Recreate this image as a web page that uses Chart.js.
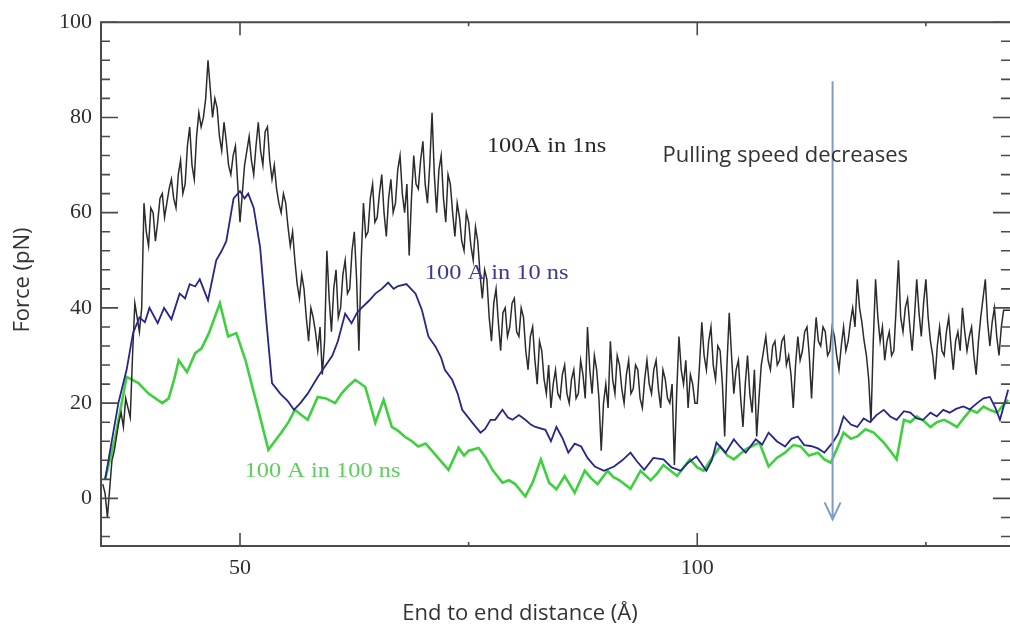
<!DOCTYPE html>
<html>
<head>
<meta charset="utf-8">
<script src="https://cdn.jsdelivr.net/npm/chart.js@4.4.0/dist/chart.umd.min.js"></script>
<style>
  body { margin: 0; background: #fff; }
</style>
</head>
<body>
<canvas id="force-chart" width="1010" height="633"></canvas>
<script>
// pulling at 100 A in 1 ns
const blackDist = [
  35.0, 35.25, 35.5, 35.75, 36.0, 36.25, 36.5, 36.75, 37.0, 37.25, 37.5, 37.75, 38.0, 38.25, 38.5, 38.75, 39.0, 39.25, 39.5, 39.75,
  40.0, 40.25, 40.5, 40.75, 41.0, 41.25, 41.5, 41.75, 42.0, 42.25, 42.5, 42.75, 43.0, 43.25, 43.5, 43.75, 44.0, 44.25, 44.5, 44.75,
  45.0, 45.25, 45.5, 45.75, 46.0, 46.25, 46.5, 46.75, 47.0, 47.25, 47.5, 47.75, 48.0, 48.25, 48.5, 48.75, 49.0, 49.25, 49.5, 49.75,
  50.0, 50.25, 50.5, 50.75, 51.0, 51.25, 51.5, 51.75, 52.0, 52.25, 52.5, 52.75, 53.0, 53.25, 53.5, 53.75, 54.0, 54.25, 54.5, 54.75,
  55.0, 55.25, 55.5, 55.75, 56.0, 56.25, 56.5, 56.75, 57.0, 57.25, 57.5, 57.75, 58.0, 58.25, 58.5, 58.75, 59.0, 59.25, 59.5, 59.75,
  60.0, 60.25, 60.5, 60.75, 61.0, 61.25, 61.5, 61.75, 62.0, 62.25, 62.5, 62.75, 63.0, 63.25, 63.5, 63.75, 64.0, 64.25, 64.5, 64.75,
  65.0, 65.25, 65.5, 65.75, 66.0, 66.25, 66.5, 66.75, 67.0, 67.25, 67.5, 67.75, 68.0, 68.25, 68.5, 68.75, 69.0, 69.25, 69.5, 69.75,
  70.0, 70.25, 70.5, 70.75, 71.0, 71.25, 71.5, 71.75, 72.0, 72.25, 72.5, 72.75, 73.0, 73.25, 73.5, 73.75, 74.0, 74.25, 74.5, 74.75,
  75.0, 75.25, 75.5, 75.75, 76.0, 76.25, 76.5, 76.75, 77.0, 77.25, 77.5, 77.75, 78.0, 78.25, 78.5, 78.75, 79.0, 79.25, 79.5, 79.75,
  80.0, 80.25, 80.5, 80.75, 81.0, 81.25, 81.5, 81.75, 82.0, 82.25, 82.5, 82.75, 83.0, 83.25, 83.5, 83.75, 84.0, 84.25, 84.5, 84.75,
  85.0, 85.25, 85.5, 85.75, 86.0, 86.25, 86.5, 86.75, 87.0, 87.25, 87.5, 87.75, 88.0, 88.25, 88.5, 88.75, 89.0, 89.25, 89.5, 89.75,
  90.0, 90.25, 90.5, 90.75, 91.0, 91.25, 91.5, 91.75, 92.0, 92.25, 92.5, 92.75, 93.0, 93.25, 93.5, 93.75, 94.0, 94.25, 94.5, 94.75,
  95.0, 95.25, 95.5, 95.75, 96.0, 96.25, 96.5, 96.75, 97.0, 97.25, 97.5, 97.75, 98.0, 98.25, 98.5, 98.75, 99.0, 99.25, 99.5, 99.75,
  100.0, 100.25, 100.5, 100.75, 101.0, 101.25, 101.5, 101.75, 102.0, 102.25, 102.5, 102.75, 103.0, 103.25, 103.5, 103.75, 104.0, 104.25, 104.5, 104.75,
  105.0, 105.25, 105.5, 105.75, 106.0, 106.25, 106.5, 106.75, 107.0, 107.25, 107.5, 107.75, 108.0, 108.25, 108.5, 108.75, 109.0, 109.25, 109.5, 109.75,
  110.0, 110.25, 110.5, 110.75, 111.0, 111.25, 111.5, 111.75, 112.0, 112.25, 112.5, 112.75, 113.0, 113.25, 113.5, 113.75, 114.0, 114.25, 114.5, 114.75,
  115.0, 115.25, 115.5, 115.75, 116.0, 116.25, 116.5, 116.75, 117.0, 117.25, 117.5, 117.75, 118.0, 118.25, 118.5, 118.75, 119.0, 119.25, 119.5, 119.75,
  120.0, 120.25, 120.5, 120.75, 121.0, 121.25, 121.5, 121.75, 122.0, 122.25, 122.5, 122.75, 123.0, 123.25, 123.5, 123.75, 124.0, 124.25, 124.5, 124.75,
  125.0, 125.25, 125.5, 125.75, 126.0, 126.25, 126.5, 126.75, 127.0, 127.25, 127.5, 127.75, 128.0, 128.25, 128.5, 128.75, 129.0, 129.25, 129.5, 129.75,
  130.0, 130.25, 130.5, 130.75, 131.0, 131.25, 131.5, 131.75, 132.0, 132.25, 132.5, 132.75, 133.0, 133.25, 133.5, 133.75, 134.0, 134.25, 134.5
];
const blackForce = [
  3, 1, -4, 2, 8, 10, 13, 16, 18, 15, 21, 19, 17, 30, 41, 38, 35, 40, 62, 56,
  53, 61, 60, 54, 58, 63, 64, 59, 62, 65, 67, 63, 61, 68, 71, 64, 66, 74, 78, 70,
  67, 76, 81, 78, 80, 84, 92, 86, 80, 84, 82, 76, 73, 79, 75, 70, 68, 72, 74, 66,
  58, 64, 70, 73, 76, 71, 68, 74, 79, 73, 70, 77, 78, 71, 67, 70, 65, 62, 60, 64,
  62, 57, 53, 56, 50, 45, 42, 47, 44, 38, 33, 40, 38, 35, 31, 36, 26, 33, 52, 42,
  35, 44, 48, 38, 40, 47, 50, 43, 44, 52, 56, 46, 31, 50, 62, 55, 56, 63, 66, 58,
  59, 64, 68, 60, 55, 63, 67, 60, 62, 69, 72, 64, 60, 66, 51, 63, 72, 66, 65, 71,
  75, 66, 62, 70, 81, 68, 60, 69, 72, 63, 58, 68, 66, 60, 55, 62, 59, 54, 52, 60,
  58, 53, 50, 57, 54, 47, 42, 48, 46, 38, 33, 41, 44, 37, 31, 39, 40, 34, 36, 41,
  42, 35, 34, 40, 38, 31, 27, 34, 36, 29, 24, 33, 31, 25, 22, 28, 19, 24, 27, 22,
  21, 26, 28, 22, 20, 25, 27, 21, 22, 29, 26, 21, 36, 27, 22, 30, 27, 21, 10, 20,
  24, 19, 33, 25, 22, 30, 28, 23, 20, 26, 29, 22, 23, 28, 27, 21, 19, 25, 29, 24,
  22, 27, 29, 23, 19, 27, 25, 21, 20, 24, 7, 22, 34, 27, 24, 29, 19, 26, 24, 20,
  20, 28, 37, 30, 27, 33, 36, 28, 25, 32, 31, 24, 13, 28, 39, 30, 22, 27, 29, 21,
  15, 24, 30, 22, 18, 27, 13, 21, 28, 31, 34, 29, 27, 32, 33, 28, 29, 33, 34, 28,
  30, 26, 19, 28, 34, 29, 31, 35, 36, 30, 21, 31, 38, 33, 32, 36, 35, 30, 31, 36,
  34, 30, 27, 32, 36, 31, 33, 37, 40, 36, 46, 40, 37, 33, 30, 25, 16, 33, 46, 38,
  33, 36, 29, 33, 35, 30, 31, 40, 50, 38, 35, 40, 42, 36, 31, 38, 46, 39, 34, 41,
  46, 38, 33, 30, 25, 32, 36, 31, 30, 35, 38, 32, 27, 33, 35, 31, 40, 35, 31, 34,
  36, 30, 26, 33, 38, 42, 46, 37, 32, 37, 40, 34, 30, 36, 39.5, 39.5, 39.5, 39.5, 39.5
];

// pulling at 100 A in 10 ns
const blueDist = [
  35.25, 36.7, 37.6, 38.3, 39.0, 39.6, 40.1, 41.0, 41.7, 42.5, 43.4, 44.0, 44.5, 45.1, 45.6, 46.5, 47.4, 48.0, 48.5, 49.3,
  50.0, 50.5, 50.9, 51.5, 52.2, 52.9, 53.5, 54.4, 55.2, 55.9, 56.6, 57.4, 58.5, 59.4, 60.1, 60.7, 61.5, 62.2, 62.8, 63.3,
  64.1, 64.8, 65.5, 66.2, 66.8, 67.3, 68.2, 69.2, 69.9, 70.6, 71.4, 72.0, 72.4, 73.2, 73.8, 74.3, 75.4, 76.3, 76.8, 77.4,
  77.9, 78.7, 79.3, 79.8, 80.5, 81.2, 81.8, 82.3, 83.4, 84.0, 84.6, 85.3, 85.9, 86.6, 87.3, 88.0, 88.8, 89.8, 90.9, 91.8,
  92.7, 93.4, 94.2, 95.2, 96.3, 97.2, 98.2, 99.0, 99.9, 101.0, 101.6, 102.1, 103.1, 104.0, 104.7, 105.3, 106.4, 107.1, 107.8, 108.7,
  109.6, 110.3, 111.0, 111.7, 112.4, 113.2, 113.9, 114.8, 115.4, 116.0, 116.8, 117.5, 118.2, 118.9, 119.6, 120.4, 121.1, 121.8, 122.6, 123.3,
  124.0, 124.7, 125.5, 126.2, 126.9, 127.6, 128.3, 129.1, 129.8, 130.6, 131.3, 132.0, 132.6, 133.1, 134.0
];
const blueForce = [
  4, 20, 27, 34.7, 38, 37, 40, 36.8, 40, 37.6, 43, 42, 45, 44.5, 46, 41.6, 50, 52, 54, 63,
  64.5, 63, 64, 61, 52.7, 36.8, 24.2, 22, 20.5, 18.6, 20, 22, 25.5, 28, 30, 33, 38.8, 36.8, 39, 40,
  41.5, 43, 44, 45.3, 44, 44.6, 45, 43, 39.5, 34, 31.8, 29.5, 27, 24.9, 22, 18.6, 15.9, 13.8, 14.6, 16.5,
  16.5, 18.6, 17, 16.5, 17.5, 16.5, 15.5, 15, 14.4, 12, 15, 12.5, 9.6, 11.5, 10.9, 8.5, 6.7, 5.8, 6.7, 8,
  9.6, 7.8, 6, 8.5, 8.2, 6.5, 5.8, 7.5, 8.8, 5.8, 8, 11.7, 9.6, 12.4, 10.8, 9.6, 12.4, 11.3, 13.8, 12,
  10.9, 12.5, 13, 11.2, 11, 10.5, 9.6, 11.7, 13.5, 17.2, 15.5, 15, 16.8, 16, 17.5, 18.6, 17.2, 16.5, 18.3, 18,
  16.8, 16.5, 18, 17.2, 18.6, 18, 18.8, 19.3, 18.7, 20, 21, 21.3, 19, 16.5, 22.8
];

// pulling at 100 A in 100 ns
const greenDist = [
  35.25, 36.3, 37.6, 38.9, 39.5, 40.0, 41.5, 42.2, 42.8, 43.3, 44.2, 45.1, 45.8, 46.6, 47.8, 48.7, 49.6, 50.6, 52.0, 53.1,
  53.8, 54.5, 55.3, 56.0, 56.7, 57.4, 58.5, 59.4, 60.4, 61.1, 61.8, 62.6, 63.7, 64.8, 65.7, 66.6, 67.3, 68.0, 68.8, 69.5,
  70.3, 71.0, 71.9, 72.8, 73.9, 74.5, 75.0, 76.1, 76.9, 77.6, 78.7, 79.4, 80.1, 81.2, 82.0, 82.9, 83.8, 84.6, 85.5, 86.6,
  87.7, 88.4, 89.1, 90.2, 90.8, 91.5, 92.7, 93.8, 94.9, 95.6, 96.3, 97.8, 98.5, 99.2, 100.0, 100.7, 101.6, 102.5, 103.3, 104.0,
  105.3, 106.0, 106.8, 107.8, 108.7, 109.6, 110.5, 111.3, 112.2, 113.2, 113.9, 114.6, 115.3, 116.0, 116.8, 117.5, 118.4, 119.3, 120.4, 121.1,
  121.8, 122.6, 123.3, 124.0, 124.8, 125.5, 126.2, 127.0, 127.7, 128.4, 129.2, 129.9, 130.6, 131.3, 132.1, 132.8, 133.4, 134.0
];
const greenForce = [
  4, 12.3, 25.5, 24.2, 23, 22, 20, 21, 25, 29, 26.5, 30.5, 31.5, 34.7, 41, 34, 34.7, 29, 18.6, 10.2,
  12, 13.8, 16, 18.6, 17.5, 16.5, 21.3, 21, 20, 22, 23.5, 24.9, 23.4, 15.9, 20.7, 15, 14.2, 13, 12, 10.9,
  11.5, 10, 8, 6, 10.6, 9, 10, 10.6, 8.5, 6, 3.3, 3.8, 3, 0.4, 3.3, 8.2, 3.3, 1.9, 4.7, 1.2,
  5.8, 4.2, 3, 5.8, 4.5, 3.8, 2, 5.8, 3.8, 5.2, 7, 4.7, 6.5, 8.2, 6.5, 5.8, 8.5, 10.9, 9, 8.2,
  10.3, 11, 11.7, 6.7, 8.5, 9.6, 11.2, 10.9, 9, 9.6, 8.2, 7.5, 10.5, 13.8, 12.5, 13, 14.5, 13.8, 11.7, 10,
  8.2, 16.5, 16, 17.2, 16.2, 15, 16, 16.5, 15.8, 15, 17, 18.6, 18, 19.3, 18.5, 18, 19.5, 20.7
];

const xTickValues = [50, 100];
const yTickValues = [0, 20, 40, 60, 80, 100];

// curve labels, placed in data units
const notes = [
  { text: '100A in 1ns', x: 77.0, y: 73.8, color: '#262626' },
  { text: '100 A in 10 ns', x: 70.2, y: 47.2, color: '#3b3b92' },
  { text: '100 A in 100 ns', x: 50.5, y: 5.5, color: '#5ccf5c' }
];

function toPoints(xs, ys) {
  return xs.map((x, i) => ({ x: x, y: ys[i] }));
}

const serif = '"Liberation Serif", "DejaVu Serif", serif';
const sans = '"Open Sans", "Noto Sans", sans-serif';

const framePlugin = {
  id: 'frame',
  afterDatasetsDraw(chart) {
    const { ctx, chartArea: a, scales: { x, y } } = chart;
    ctx.save();
    ctx.strokeStyle = '#4a4a4a';
    ctx.lineWidth = 2;
    ctx.beginPath();
    ctx.moveTo(a.right, a.top);
    ctx.lineTo(a.left, a.top);
    ctx.lineTo(a.left, a.bottom);
    ctx.lineTo(a.right, a.bottom);
    ctx.stroke();

    // inward ticks on all four sides
    ctx.lineWidth = 1.6;
    ctx.beginPath();
    for (let v = -8; v <= 100; v += 4) {
      const py = y.getPixelForValue(v);
      const len = v % 20 === 0 ? 17 : 9;
      ctx.moveTo(a.left, py); ctx.lineTo(a.left + len, py);
      ctx.moveTo(a.right, py); ctx.lineTo(a.right - len, py);
    }
    for (let v = 50; v <= 125; v += 25) {
      const px = x.getPixelForValue(v);
      const len = v % 50 === 0 ? 13 : 4;
      ctx.moveTo(px, a.bottom); ctx.lineTo(px, a.bottom - len);
      ctx.moveTo(px, a.top); ctx.lineTo(px, a.top + len);
    }
    ctx.stroke();

    // curve labels, slightly widened like the old xmgrace export
    ctx.font = '20px ' + serif;
    ctx.textBaseline = 'middle';
    ctx.textAlign = 'left';
    notes.forEach(n => {
      ctx.save();
      ctx.translate(x.getPixelForValue(n.x), y.getPixelForValue(n.y));
      ctx.scale(1.22, 1);
      ctx.fillStyle = n.color;
      ctx.fillText(n.text, 0, 0);
      ctx.restore();
    });

    // "pulling speed decreases" arrow
    const ax = x.getPixelForValue(114.8);
    const top = y.getPixelForValue(87.6);
    const bot = y.getPixelForValue(-4.4);
    ctx.strokeStyle = '#7f9dc4';
    ctx.lineWidth = 2;
    ctx.beginPath();
    ctx.moveTo(ax, top); ctx.lineTo(ax, bot);
    ctx.moveTo(ax - 8, bot - 17); ctx.lineTo(ax, bot); ctx.lineTo(ax + 8, bot - 17);
    ctx.stroke();

    ctx.fillStyle = '#333';
    ctx.font = '22px ' + sans;
    ctx.fillText('Pulling speed decreases', x.getPixelForValue(96.2), y.getPixelForValue(71.9));

    // axis titles
    ctx.fillStyle = '#333';
    ctx.font = '22px ' + sans;
    ctx.textAlign = 'center';
    ctx.fillText('End to end distance (Å)', 520, 614);
    ctx.save();
    ctx.translate(23, 280);
    ctx.rotate(-Math.PI / 2);
    ctx.fillText('Force (pN)', 0, 0);
    ctx.restore();
    ctx.restore();
  }
};

new Chart(document.getElementById('force-chart'), {
  type: 'line',
  data: {
    datasets: [
      {
        label: '100 A in 10 ns',
        data: toPoints(blueDist, blueForce),
        borderColor: '#25258c',
        borderWidth: 1.8,
        order: 0
      },
      {
        label: '100A in 1ns',
        data: toPoints(blackDist, blackForce),
        borderColor: '#2b2b2b',
        borderWidth: 1.5,
        order: 1
      },
      {
        label: '100 A in 100 ns',
        data: toPoints(greenDist, greenForce),
        borderColor: '#3fd03f',
        borderWidth: 2.6,
        order: 2
      }
    ]
  },
  options: {
    responsive: false,
    animation: false,
    layout: { padding: { top: 20, right: 0, left: 0, bottom: 0 } },
    elements: { point: { radius: 0 }, line: { tension: 0 } },
    plugins: { legend: { display: false }, tooltip: { enabled: false } },
    scales: {
      x: {
        type: 'linear',
        min: 34.8,
        max: 134.2,
        grid: { display: false, drawTicks: false },
        border: { display: false },
        afterBuildTicks: s => { s.ticks = xTickValues.map(v => ({ value: v })); },
        afterFit: s => { s.height = 87; },
        ticks: {
          padding: 9,
          color: '#2e2e2e',
          font: { family: serif, size: 22 },
          maxRotation: 0
        }
      },
      y: {
        min: -10,
        max: 100,
        grid: { display: false, drawTicks: false },
        border: { display: false },
        afterBuildTicks: s => { s.ticks = yTickValues.map(v => ({ value: v })); },
        afterFit: s => { s.width = 101; },
        ticks: {
          padding: 9,
          color: '#2e2e2e',
          font: { family: serif, size: 22 }
        }
      }
    }
  },
  plugins: [framePlugin]
});
</script>
</body>
</html>
